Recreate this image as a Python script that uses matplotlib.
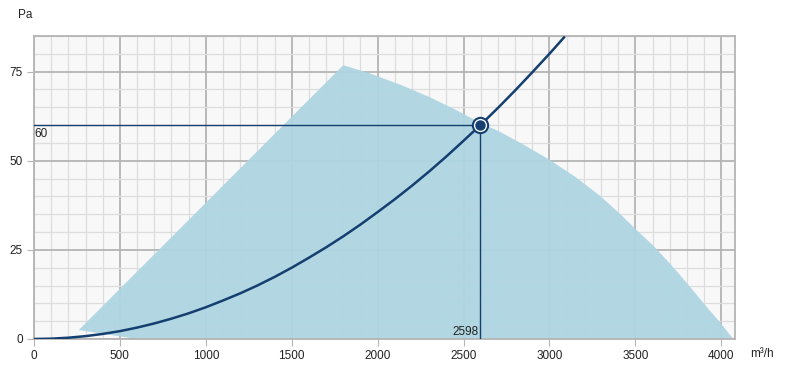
import numpy as np
import matplotlib.pyplot as plt

plt.rcParams['font.family'] = ['Liberation Sans', 'DejaVu Sans']

# working range of the fan (shaded area)
area_flow = [260, 1800, 1950, 2134, 2300, 2450, 2598, 2709, 2850, 3000, 3150, 3291, 3400,
             3500, 3600, 3678, 3750, 3831, 3900, 3994, 4070, 600]
area_pa = [2.5, 76.8, 74.6, 71.3, 67.9, 64.4, 60.6, 58.2, 54.5, 50.3, 45.5, 40.3, 35.6,
           30.9, 26.4, 22.4, 18.5, 13.9, 9.9, 4.6, 0.0, 0.0]

# system curve
sys_flow = [0, 100, 200, 300, 400, 500, 600, 700, 800, 900, 1000, 1100, 1200, 1300, 1400,
            1500, 1600, 1700, 1800, 1900, 2000, 2100, 2200, 2300, 2400, 2500, 2598, 2700,
            2800, 2900, 3000, 3085]
sys_pa = [0, 0.09, 0.36, 0.8, 1.42, 2.2, 3.2, 4.36, 5.7, 7.2, 8.9, 10.8, 12.8, 15.0, 17.4,
          20.0, 22.8, 25.7, 28.8, 32.1, 35.6, 39.2, 43.0, 47.0, 51.2, 55.6, 60.0, 64.8,
          69.7, 74.8, 80.0, 84.6]

op_flow = 2598
op_pa = 60

x_ticks = [0, 500, 1000, 1500, 2000, 2500, 3000, 3500, 4000]
y_ticks = [0, 25, 50, 75]

fill_col = '#aed6e2'
line_col = '#143f70'
txt_col = '#222222'

fig = plt.figure(figsize=(7.87, 3.78), dpi=100)
ax = fig.add_axes([0.0432, 0.1032, 0.8907, 0.8016])
ax.set_facecolor('#f8f8f8')

ax.set_xlim(0, 4080)
ax.set_ylim(0, 85)
ax.set_xticks(x_ticks)
ax.set_yticks(y_ticks)
ax.set_xticks(np.arange(0, 4081, 100), minor=True)
ax.set_yticks(np.arange(0, 86, 5), minor=True)
ax.grid(which='minor', color='#dddddd', linewidth=0.9, zorder=0)
ax.grid(which='major', color='#b4b4b4', linewidth=1.3, zorder=0)
ax.set_axisbelow(True)
ax.tick_params(which='minor', length=0)
ax.tick_params(which='major', length=5, color='#b4b4b4', labelsize=8.5, pad=3, labelcolor=txt_col)
for s in ax.spines.values():
    s.set_color('#b4b4b4')
    s.set_linewidth(1.3)

ax.fill(area_flow, area_pa, color=fill_col, alpha=0.95, lw=0, zorder=1)

ax.plot([0, op_flow], [op_pa, op_pa], color=line_col, lw=1.0, zorder=3)
ax.plot([op_flow, op_flow], [0, op_pa], color=line_col, lw=1.0, zorder=3)
ax.plot(sys_flow, sys_pa, color=line_col, lw=1.8, zorder=4)
ax.plot(op_flow, op_pa, 'o', ms=11, mfc='white', mec=line_col, mew=1.5, zorder=5)
ax.plot(op_flow, op_pa, 'o', ms=6.5, mfc=line_col, mec=line_col, zorder=6)

ax.text(5, op_pa - 0.8, str(op_pa), ha='left', va='top', fontsize=8.5, color=txt_col)
ax.text(op_flow - 8, 0.4, str(op_flow), ha='right', va='bottom', fontsize=8.5, color=txt_col)

fig.text(18 / 787, 1 - 15 / 378, 'Pa', ha='left', va='center', fontsize=8.5, color=txt_col)
fig.text(750 / 787, 1 - 354 / 378, 'm³/h', ha='left', va='center', fontsize=8.5, color=txt_col)

fig.savefig('out.png', dpi=100)
